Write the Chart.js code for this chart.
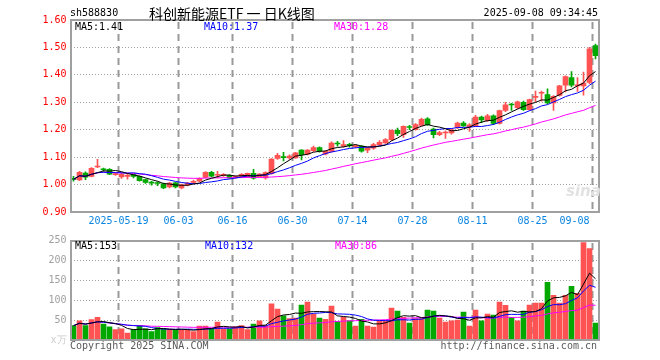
<!DOCTYPE html>
<html><head><meta charset="utf-8">
<script src="https://cdn.jsdelivr.net/npm/chart.js@4.4.1/dist/chart.umd.min.js"></script>
<style>
html,body{margin:0;padding:0;background:#fff}
#wrap{position:relative;width:660px;height:360px;overflow:hidden;font-family:"DejaVu Sans Mono",monospace;font-size:10px;color:#000}
canvas{position:absolute;left:0}
.t{position:absolute;white-space:pre;line-height:12px}
</style></head><body><div id="wrap">
<canvas id="kline" width="660" height="230" style="top:0"></canvas>
<canvas id="vol" width="660" height="130" style="top:230px"></canvas>
<div class="t" style="left:70px;top:7px">sh588830</div>
<div class="t" style="left:149px;top:4px;font-family:'Noto Sans CJK SC';font-size:14px;line-height:18px">科创新能源ETF 一 日K线图</div>
<div class="t" style="right:62px;top:7px">2025-09-08 09:34:45</div>
<div class="t" style="left:75px;top:21px;color:#000">MA5:1.41</div>
<div class="t" style="left:204px;top:21px;color:#0000ff">MA10:1.37</div>
<div class="t" style="left:334px;top:21px;color:#ff00ff">MA30:1.28</div>
<div class="t" style="left:566px;top:182px;font:italic bold 15px 'DejaVu Sans';color:#e2e2e2">sina</div>
<div class="t" style="left:75px;top:240px;color:#000">MA5:153</div>
<div class="t" style="left:205px;top:240px;color:#0000ff">MA10:132</div>
<div class="t" style="left:335px;top:240px;color:#ff00ff">MA30:86</div>
<div class="t" style="left:70px;top:340px;color:#5a5a5a">Copyright 2025 SINA.COM</div>
<div class="t" style="right:63px;top:340px;color:#5a5a5a">http://finance.sina.com.cn</div>
</div>
<script>
const dates = [
'2025-05-07','2025-05-08','2025-05-09','2025-05-12','2025-05-13','2025-05-14','2025-05-15','2025-05-16',
'2025-05-19','2025-05-20','2025-05-21','2025-05-22','2025-05-23','2025-05-26','2025-05-27','2025-05-28','2025-05-29','2025-05-30',
'2025-06-03','2025-06-04','2025-06-05','2025-06-06','2025-06-09','2025-06-10','2025-06-11','2025-06-12','2025-06-13',
'2025-06-16','2025-06-17','2025-06-18','2025-06-19','2025-06-20','2025-06-23','2025-06-24','2025-06-25','2025-06-26','2025-06-27',
'2025-06-30','2025-07-01','2025-07-02','2025-07-03','2025-07-04','2025-07-07','2025-07-08','2025-07-09','2025-07-10','2025-07-11',
'2025-07-14','2025-07-15','2025-07-16','2025-07-17','2025-07-18','2025-07-21','2025-07-22','2025-07-23','2025-07-24','2025-07-25',
'2025-07-28','2025-07-29','2025-07-30','2025-07-31','2025-08-01','2025-08-04','2025-08-05','2025-08-06','2025-08-07','2025-08-08',
'2025-08-11','2025-08-12','2025-08-13','2025-08-14','2025-08-15','2025-08-18','2025-08-19','2025-08-20','2025-08-21','2025-08-22',
'2025-08-25','2025-08-26','2025-08-27','2025-08-28','2025-08-29','2025-09-01','2025-09-02','2025-09-03','2025-09-04','2025-09-05',
'2025-09-08'];
const tickDates = ['2025-05-19','2025-06-03','2025-06-16','2025-06-30','2025-07-14','2025-07-28','2025-08-11','2025-08-25','2025-09-08'];
const tickTexts = ['2025-05-19','06-03','06-16','06-30','07-14','07-28','08-11','08-25','09-08'];
const opens = [1.021,1.017,1.042,1.030,1.064,1.056,1.056,1.036,1.028,1.030,
1.036,1.030,1.018,1.007,1.006,1.003,0.991,1.006,0.988,0.998,
1.008,1.012,1.026,1.045,1.034,1.032,1.034,1.026,1.030,1.029,
1.041,1.029,1.024,1.040,1.095,1.100,1.097,1.097,1.126,1.111,
1.124,1.135,1.112,1.121,1.150,1.140,1.145,1.138,1.140,1.125,
1.133,1.145,1.152,1.164,1.198,1.182,1.210,1.200,1.216,1.240,
1.202,1.182,1.188,1.188,1.208,1.224,1.210,1.214,1.246,1.233,
1.251,1.223,1.270,1.292,1.280,1.300,1.273,1.318,1.333,1.328,
1.298,1.325,1.362,1.390,1.360,1.360,1.372,1.507];
const highs = [1.030,1.048,1.046,1.062,1.092,1.060,1.058,1.045,1.042,1.040,
1.038,1.032,1.020,1.012,1.010,1.005,1.008,1.008,1.002,1.008,
1.016,1.025,1.047,1.048,1.048,1.040,1.036,1.032,1.040,1.042,
1.056,1.040,1.046,1.095,1.114,1.118,1.108,1.118,1.128,1.128,
1.140,1.138,1.124,1.156,1.158,1.160,1.150,1.146,1.142,1.136,
1.150,1.160,1.168,1.200,1.206,1.214,1.216,1.222,1.242,1.244,
1.206,1.194,1.196,1.204,1.228,1.230,1.222,1.252,1.250,1.256,
1.254,1.272,1.300,1.296,1.304,1.304,1.312,1.341,1.341,1.349,
1.324,1.362,1.396,1.412,1.390,1.410,1.500,1.512];
const lows = [1.012,1.014,1.018,1.028,1.062,1.048,1.036,1.033,1.022,1.020,
1.024,1.012,1.004,0.998,0.996,0.985,0.988,0.988,0.984,0.995,
1.003,1.010,1.024,1.028,1.024,1.030,1.022,1.022,1.028,1.026,
1.020,1.026,1.020,1.038,1.092,1.086,1.092,1.095,1.090,1.108,
1.120,1.118,1.108,1.118,1.140,1.136,1.136,1.134,1.118,1.116,
1.128,1.142,1.150,1.160,1.178,1.172,1.200,1.198,1.214,1.216,
1.170,1.178,1.168,1.184,1.204,1.212,1.194,1.212,1.226,1.230,
1.218,1.220,1.266,1.270,1.276,1.270,1.270,1.302,1.304,1.294,
1.270,1.322,1.338,1.356,1.340,1.326,1.368,1.458];
const closes = [1.019,1.045,1.027,1.059,1.066,1.054,1.038,1.040,1.037,1.033,
1.030,1.014,1.008,1.005,1.004,0.988,1.005,0.991,0.999,1.005,
1.010,1.023,1.045,1.031,1.036,1.037,1.024,1.028,1.037,1.041,
1.023,1.038,1.044,1.093,1.107,1.098,1.104,1.116,1.109,1.126,
1.135,1.121,1.121,1.151,1.148,1.146,1.143,1.142,1.122,1.134,
1.146,1.154,1.164,1.198,1.186,1.212,1.208,1.219,1.238,1.218,
1.182,1.190,1.190,1.200,1.224,1.214,1.218,1.246,1.236,1.251,
1.223,1.270,1.291,1.290,1.302,1.273,1.310,1.322,1.336,1.298,
1.322,1.360,1.394,1.362,1.363,1.370,1.495,1.470];
const volumes = [36,48,36,51,57,40,33,26,28,17.5,
26,37,28,21,31,28,27.5,25,25,25,
21,35,35,28,45,28,28,33,36,26,
40,48,37,91,77.5,61,54,55,87.5,95,
65,55,52,85,46,57,48,35,52,35,
32.5,48,48,80,72.5,57,42.5,54,54,75,
72.5,55,45,48,50,70,35,75,48,65,
62.5,95,87,57,48,72.5,87.5,92.5,92.5,145,
112.5,92.5,112.5,135,117,245,230,42.5];

function ma(arr, n) {
  return arr.map((v, i) => {
    const s = arr.slice(Math.max(0, i - n + 1), i + 1);
    return s.reduce((a, b) => a + b, 0) / s.length;
  });
}
const RED = '#ff5252', GREEN = '#00a800';
const barColors = dates.map((d, i) => closes[i] >= opens[i] ? RED : GREEN);
const gridIdx = tickDates.map(d => dates.indexOf(d));
const MONO = '"DejaVu Sans Mono", monospace';

const boxPlugin = {
  id: 'box',
  beforeDatasetsDraw(chart) {
    const { ctx, chartArea: a, scales } = chart;
    const x = scales.x;
    const half = (x.getPixelForValue(1) - x.getPixelForValue(0)) / 2;
    ctx.save();
    ctx.globalAlpha = 1;
    ctx.fillStyle = '#999999';
    gridIdx.forEach(i => {
      const px = Math.floor(x.getPixelForValue(i) - half);
      for (let y = Math.round(a.top) + 2; y < a.bottom; y += 12) {
        ctx.fillRect(px - 0.5, y, 2, Math.min(7, a.bottom - y));
      }
    });
    ctx.restore();
  },
  afterDraw(chart) {
    const { ctx, chartArea: a } = chart;
    ctx.save();
    ctx.strokeStyle = '#a0a0a0';
    ctx.lineWidth = 2;
    const l = Math.round(a.left), t = Math.round(a.top), r = Math.round(a.right), b = Math.round(a.bottom);
    ctx.strokeRect(l, t, r - l, b - t);
    ctx.restore();
  }
};

function xLabel(i) {
  const k = tickDates.indexOf(dates[i]);
  if (k < 0) return '';
  return i === dates.length - 1 ? tickTexts[k] + '      ' : tickTexts[k];
}
function lineDs(data, color) {
  return { type: 'line', data, borderColor: color, borderWidth: 1, pointRadius: 0, tension: 0, order: 0 };
}

Chart.defaults.font.family = MONO;

new Chart(document.getElementById('kline'), {
  type: 'bar',
  data: {
    labels: dates,
    datasets: [
      lineDs(ma(closes, 5), '#000000'),
      lineDs(ma(closes, 10), '#0000ff'),
      lineDs(ma(closes, 30), '#ff00ff'),
      { data: dates.map((d, i) => [opens[i], closes[i]]), backgroundColor: barColors, barThickness: 5, minBarLength: 1, grouped: false, order: 1 },
      { data: dates.map((d, i) => [lows[i], highs[i]]), backgroundColor: barColors, barThickness: 1, grouped: false, order: 2 }
    ]
  },
  options: {
    responsive: false, animation: false, devicePixelRatio: 1,
    layout: { padding: { left: 0.5, right: 61.5, top: 20, bottom: 0 } },
    plugins: { legend: { display: false }, tooltip: { enabled: false } },
    scales: {
      x: {
        offset: true,
        grid: { display: false, drawTicks: false },
        border: { display: false },
        ticks: { autoSkip: false, maxRotation: 0, minRotation: 0, padding: 3, labelOffset: -3, color: '#0a84e0',
                 font: { family: MONO, size: 10 }, callback: (v, i) => xLabel(i) },
        afterFit: s => { s.height = 18; }
      },
      y: {
        min: 0.9, max: 1.6,
        ticks: { stepSize: 0.1, color: '#ff0000', padding: 4, font: { family: MONO, size: 10 }, callback: v => v.toFixed(2) },
        grid: { drawTicks: false, lineWidth: 1,
                color: ctx => (ctx.tick && (Math.abs(ctx.tick.value - 0.9) < 1e-6 || Math.abs(ctx.tick.value - 1.6) < 1e-6)) ? 'rgba(0,0,0,0)' : '#a0a0a0' },
        border: { display: false, dash: [1, 2] },
        afterFit: s => { s.width = 70; }
      }
    }
  },
  plugins: [boxPlugin]
});

new Chart(document.getElementById('vol'), {
  type: 'bar',
  data: {
    labels: dates,
    datasets: [
      lineDs(ma(volumes, 5), '#000000'),
      lineDs(ma(volumes, 10), '#0000ff'),
      lineDs(ma(volumes, 30), '#ff00ff'),
      { data: volumes, backgroundColor: barColors, barThickness: 5, grouped: false, order: 1 }
    ]
  },
  options: {
    responsive: false, animation: false, devicePixelRatio: 1,
    layout: { padding: { left: 0.5, right: 61.5, top: 10.5, bottom: 20 } },
    plugins: { legend: { display: false }, tooltip: { enabled: false } },
    scales: {
      x: {
        offset: true,
        grid: { display: false, drawTicks: false },
        border: { display: false },
        ticks: { display: false, autoSkip: false },
        afterFit: s => { s.height = 0; }
      },
      y: {
        min: 0, max: 250,
        ticks: { stepSize: 50, padding: 4, font: { family: MONO, size: 10 },
                 color: ctx => (ctx.tick && ctx.tick.value === 0) ? '#cccccc' : '#a0a0a0',
                 callback: v => v === 0 ? 'x万' : String(v) },
        grid: { drawTicks: false, lineWidth: 1,
                color: ctx => (ctx.tick && (ctx.tick.value === 0 || ctx.tick.value === 250)) ? 'rgba(0,0,0,0)' : '#a0a0a0' },
        border: { display: false, dash: [1, 2] },
        afterFit: s => { s.width = 70; }
      }
    }
  },
  plugins: [boxPlugin]
});
</script>
</body></html>
